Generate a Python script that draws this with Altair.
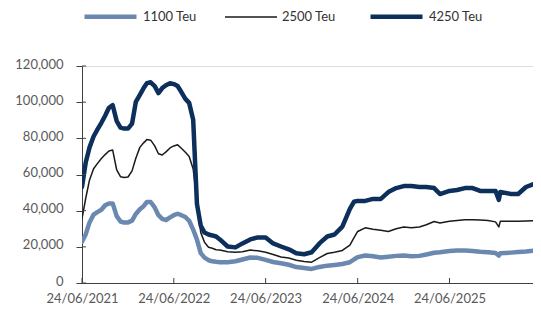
import altair as alt
import pandas as pd

dates = [
    "2021-06-24", "2021-07-09", "2021-07-24", "2021-08-09", "2021-08-24", "2021-09-09",
    "2021-09-24", "2021-10-09", "2021-10-24", "2021-11-09", "2021-11-24", "2021-12-09",
    "2021-12-24", "2022-01-09", "2022-01-24", "2022-02-09", "2022-02-24", "2022-03-09",
    "2022-03-24", "2022-04-09", "2022-04-24", "2022-05-09", "2022-05-24", "2022-06-09",
    "2022-06-24", "2022-07-09", "2022-07-24", "2022-08-09", "2022-08-24", "2022-09-09",
    "2022-09-24", "2022-10-09", "2022-10-24", "2022-11-09", "2022-11-24", "2022-12-09",
    "2022-12-24", "2023-01-24", "2023-02-24", "2023-03-24", "2023-04-24", "2023-05-24",
    "2023-06-24", "2023-07-24", "2023-08-24", "2023-09-24", "2023-10-24", "2023-11-24",
    "2023-12-24", "2024-01-24", "2024-02-24", "2024-03-24", "2024-04-24", "2024-05-24",
    "2024-06-09", "2024-06-24", "2024-07-24", "2024-08-24", "2024-09-24", "2024-10-24",
    "2024-11-24", "2024-12-24", "2025-01-24", "2025-02-24", "2025-03-24", "2025-04-24",
    "2025-05-17", "2025-06-24", "2025-07-24", "2025-08-24", "2025-09-24", "2025-10-24",
    "2025-11-24", "2025-12-24", "2026-01-06", "2026-01-12", "2026-02-24", "2026-03-24",
    "2026-04-24", "2026-05-24", "2026-06-24",
]

teu_1100 = [
    22800, 27000, 33500, 37800, 39200, 40500, 43000, 44000, 44000, 37000, 34000, 33400,
    33500, 34500, 38200, 40800, 42500, 44800, 44800, 41800, 37500, 35500, 34800, 36300,
    37500, 38300, 37500, 36500, 34400, 29500, 24000, 16500, 14000, 12600, 12000, 11700,
    11500, 11500, 12000, 13000, 14100, 13900, 12800, 11600, 10900, 10100, 8800, 8300,
    7800, 8900, 9600, 10000, 10500, 11500, 13000, 14300, 15200, 14800, 14100, 14500,
    15000, 15200, 14800, 15000, 15800, 16700, 17000, 17700, 18000, 18000, 17700, 17300,
    17000, 16600, 15200, 16400, 16800, 17100, 17400, 17800, 18200,
]

teu_2500 = [
    35600, 47000, 57000, 63200, 66000, 68800, 71000, 73000, 73500, 62500, 58800, 58400,
    58600, 62000, 69000, 75000, 77500, 79300, 79000, 75800, 71500, 70800, 72500, 74700,
    75800, 76400, 74500, 72300, 70000, 63000, 46000, 28000, 22500, 19800, 19200, 18400,
    18200, 17300, 17000, 17300, 18200, 17800, 17000, 15800, 14400, 13800, 12600, 11900,
    11500, 14000, 16300, 17000, 18000, 21000, 25000, 28500, 30500, 29700, 29200, 28500,
    30000, 31000, 30500, 31000, 32200, 34000, 33200, 34100, 34600, 35000, 35000, 34800,
    34600, 33800, 31000, 34100, 34100, 34100, 34300, 34500, 34600,
]

teu_4250 = [
    53100, 66800, 75000, 81000, 84800, 88600, 92500, 96900, 98300, 89500, 85900, 85400,
    85400, 88100, 100100, 104000, 107800, 110500, 111000, 108900, 105000, 107800, 109400, 110500,
    110000, 108900, 105600, 101800, 99600, 90300, 43800, 31700, 27900, 26800, 26300, 25700,
    24100, 20200, 19700, 21900, 24100, 25200, 25200, 21900, 20200, 18600, 16400, 15900,
    17000, 21900, 25700, 26800, 31200, 41000, 44900, 45400, 45400, 46500, 46500, 50300,
    52500, 53600, 53600, 53100, 53100, 52500, 49200, 50900, 51400, 52500, 52500, 50900,
    50900, 50900, 46000, 50300, 49200, 49200, 53100, 54700, 55500,
]

series_names = ["1100 Teu", "2500 Teu", "4250 Teu"]
series_colors = ["#6b89b0", "#1a1a1a", "#0c2f5c"]
series_widths = [4.5, 1.5, 4.5]

tick_dates = ["2021-06-24", "2022-06-24", "2023-06-24", "2024-06-24", "2025-06-24"]
y_ticks = [0, 20000, 40000, 60000, 80000, 100000, 120000]
x_start, x_end = "2021-06-24", "2026-05-22"

rows = []
for name, vals in zip(series_names, [teu_1100, teu_2500, teu_4250]):
    for d, v in zip(dates, vals):
        rows.append({"date": d, "series": name, "value": v})
df = pd.DataFrame(rows)

W, H = 451, 217
AXIS_COLOR = "#404040"
LABEL_COLOR = "#595959"
FONT = "Lato"


def dt(s):
    y, m, d = (int(p) for p in s.split("-"))
    return alt.DateTime(year=y, month=m, date=d, utc=True)


x_scale = alt.Scale(type="utc", domain=[dt(x_start), dt(x_end)], nice=False)
y_scale = alt.Scale(domain=[0, 120000], nice=False, zero=True)

x_axis = alt.Axis(
    values=[dt(t) for t in tick_dates],
    format="%d/%m/%Y",
    title=None,
    grid=False,
    ticks=False,
    labelPadding=9,
    labelFont=FONT,
    labelFontSize=13,
    labelColor=LABEL_COLOR,
    domainColor=AXIS_COLOR,
    labelFlush=False,
)
y_axis = alt.Axis(
    values=y_ticks,
    format=",.0f",
    title=None,
    grid=False,
    tickSize=6,
    labelPadding=13,
    labelOffset=-2,
    tickColor=AXIS_COLOR,
    domainColor=AXIS_COLOR,
    labelFont=FONT,
    labelFontSize=13,
    labelColor=LABEL_COLOR,
)

lines = alt.Chart(df).mark_line(strokeJoin="round", strokeCap="round", clip=True).encode(
    x=alt.X("date:T", scale=x_scale, axis=x_axis),
    y=alt.Y("value:Q", scale=y_scale, axis=y_axis),
    color=alt.Color(
        "series:N",
        scale=alt.Scale(domain=series_names, range=series_colors),
        legend=alt.Legend(
            title=None,
            orient="none",
            legendX=0,
            legendY=-78,
            direction="horizontal",
            symbolType="stroke",
            symbolSize=2704,
            labelFont=FONT,
            labelFontSize=13,
            labelColor="#333333",
            labelOffset=4,
            columnPadding=25,
            padding=0,
        ),
    ),
    strokeWidth=alt.StrokeWidth(
        "series:N",
        scale=alt.Scale(type="ordinal", domain=series_names, range=series_widths),
    ),
    order=alt.Order("date:T"),
)

ytick_df = pd.DataFrame({"value": y_ticks})
ytick_in = alt.Chart(ytick_df).mark_rule(color=AXIS_COLOR, strokeWidth=1).encode(
    y=alt.Y("value:Q", scale=y_scale, axis=None),
    x=alt.value(0),
    x2=alt.value(4),
)

xtick_df = pd.DataFrame({"date": tick_dates})
xtick_in = alt.Chart(xtick_df).mark_rule(color=AXIS_COLOR, strokeWidth=1).encode(
    x=alt.X("date:T", scale=x_scale, axis=None),
    y=alt.value(H - 5),
    y2=alt.value(H),
)

chart = (
    alt.layer(lines, ytick_in, xtick_in)
    .resolve_axis(x="independent", y="independent")
    .properties(
        width=W,
        height=H,
        padding={"left": 74, "top": 58, "right": 0, "bottom": 24},
        autosize=alt.AutoSizeParams(type="none"),
    )
    .configure_view(strokeWidth=0)
    .configure(font=FONT)
)

chart.save("out.html", embed_options={"renderer": "svg", "actions": False})
